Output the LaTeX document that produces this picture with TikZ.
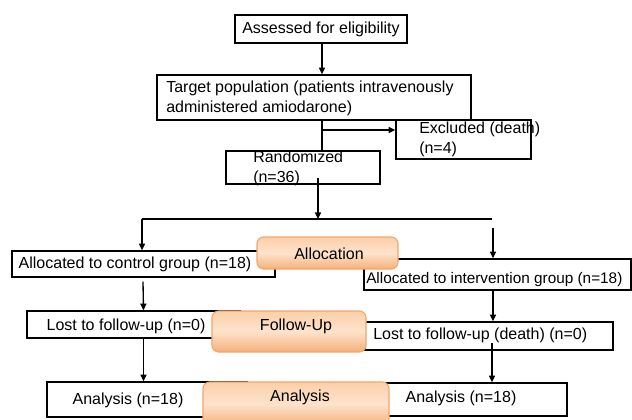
\documentclass[tikz,border=0pt]{standalone}
\usepackage{fontspec}
\setmainfont{Liberation Sans}
\usetikzlibrary{arrows.meta,calc}
\definecolor{orL}{HTML}{FDE3CC}
\definecolor{orM}{HTML}{FBCFA9}
\definecolor{orD}{HTML}{F5B07A}
\definecolor{orB}{HTML}{F2A66A}
\begin{document}
\begin{tikzpicture}[x=0.75pt,y=-0.75pt,
  box/.style={draw=black,line width=1pt,inner sep=0pt,fill=white},
  txt/.style={inner sep=0pt,font=\fontsize{12}{15}\selectfont,align=left},
  obox/.style={draw=orB,line width=0.8pt,rounded corners=5pt,inner sep=0pt,
     top color=orM,bottom color=orD,middle color=orL},
  arr/.style={line width=1pt,-{Triangle[length=5pt,width=4.5pt]}},
  ln/.style={line width=1pt}]
\useasboundingbox (0,0) rectangle (632,419);
% boxes
\node[box,minimum width=172*0.75pt,minimum height=28*0.75pt] (assess) at (321,29) {};
\node[txt,anchor=center] (assesst) at (321,29) {Assessed for eligibility};
\node[box,minimum width=314*0.75pt,minimum height=45*0.75pt] (target) at (314,97.5) {};
\node[txt,anchor=west] (targett) at (166,98) {Target population (patients intravenously\\administered amiodarone)};
\node[box,minimum width=135*0.75pt,minimum height=39*0.75pt] (excl) at (463.5,139.5) {};
\node[txt,anchor=west] (exclt) at (419,139) {Excluded (death)\\(n=4)};
\node[box,minimum width=154*0.75pt,minimum height=33*0.75pt] (rand) at (303,167.5) {};
\node[txt,anchor=west] (randt) at (253,168) {Randomized\\(n=36)};
\node[box,minimum width=263*0.75pt,minimum height=26*0.75pt] (ctrl) at (143.5,264) {};
\node[txt,anchor=center] (ctrlt) at (135,264) {Allocated to control group (n=18)};
\node[box,minimum width=267*0.75pt,minimum height=31*0.75pt] (interv) at (497.5,274.5) {};
\node[txt,anchor=west,font=\fontsize{11.5}{15}\selectfont] (intervt) at (366,280) {Allocated to intervention group (n=18)};
\node[box,minimum width=213*0.75pt,minimum height=27*0.75pt] (lost1) at (133.5,324.5) {};
\node[txt,anchor=center] (lost1t) at (126,326) {Lost to follow-up (n=0)};
\node[box,minimum width=248*0.75pt,minimum height=28*0.75pt] (lost2) at (489,336) {};
\node[txt,anchor=west] (lost2t) at (373,335) {Lost to follow-up (death) (n=0)};
\node[box,minimum width=200*0.75pt,minimum height=35*0.75pt] (an1) at (147,399.5) {};
\node[txt,anchor=center] (an1t) at (128,400) {Analysis (n=18)};
\node[box,minimum width=187*0.75pt,minimum height=33*0.75pt] (an2) at (473.5,399.5) {};
\node[txt,anchor=center] (an2t) at (461,398) {Analysis (n=18)};
% connectors
\coordinate (sl) at (142,219);
\coordinate (sr) at (492,219);
\coordinate (rs) at (318,178);
\coordinate (ts) at (322,120);
\coordinate (ir) at (493,228);
\coordinate (l2s) at (492,343);
\draw[arr] (assess.south -| ts) -- (target.north -| ts);
\draw[ln] (ts) -- (rand.north -| ts);
\draw[arr] ($(ts)+(0,10)$) -- (excl.west |- {$(ts)+(0,10)$});
\draw[arr] (rs) -- (rs |- sl);
\draw[ln] (sl) -- (sr);
\draw[arr] (sl) -- (sl |- ctrl.north);
\draw[arr] (ir) -- (ir |- interv.north);
\draw[arr] ($(ctrl.south)+(-0.5,4)$) -- (ctrl.south |- lost1.north);
\draw[arr] (lost1.south -| ctrl.south) -- (ctrl.south |- an1.north);
\draw[arr] (interv.south -| ir) -- (ir |- lost2.north);
\draw[arr] (l2s) -- (l2s |- an2.north);
% orange stage boxes
\node[obox,minimum width=141*0.75pt,minimum height=32*0.75pt] (alloc) at (327.5,253) {};
\node[txt,anchor=center] (alloct) at (329,254) {Allocation};
\node[obox,minimum width=154*0.75pt,minimum height=41*0.75pt] (fu) at (289,331.5) {};
\node[txt,anchor=center] (fut) at (296,326) {Follow-Up};
\node[obox,minimum width=186*0.75pt,minimum height=44*0.75pt] (an) at (296,404) {};
\node[txt,anchor=center] (ant) at (300,397) {Analysis};
\end{tikzpicture}
\end{document}
